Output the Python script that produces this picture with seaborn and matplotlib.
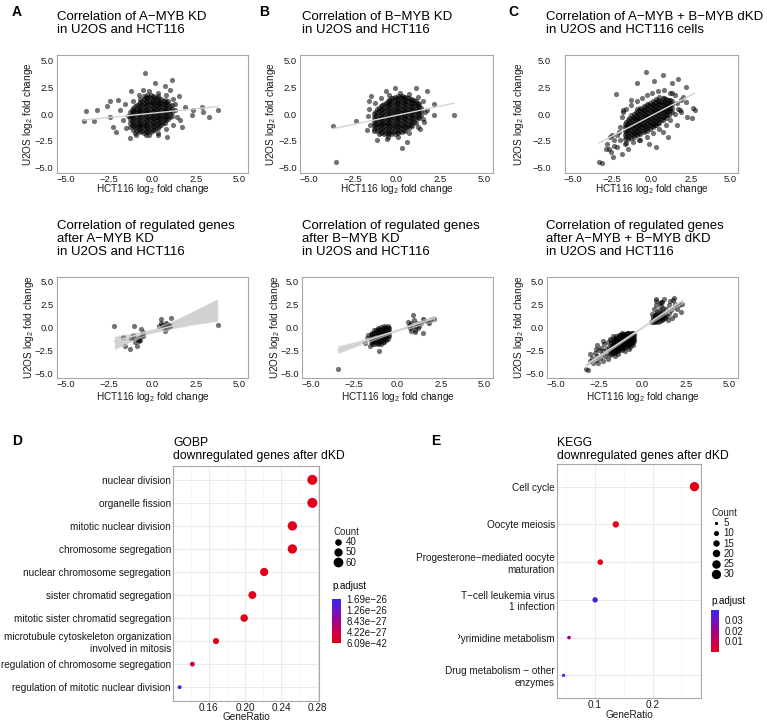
import numpy as np
import pandas as pd
import matplotlib
matplotlib.use("Agg")
import matplotlib.pyplot as plt
import seaborn as sns
from matplotlib.colors import LinearSegmentedColormap, Normalize
from matplotlib.cm import ScalarMappable
from matplotlib.lines import Line2D
from matplotlib.transforms import Bbox, TransformedBbox

# ---------------- data: correlation panels (log2 fold changes) ----------------
a_out = [(-3.81, 0.28), (-3.96, -0.63), (-3.21, 0.38), (-3.36, -0.63), (-2.6, 0.76), (-2.45, -0.25),
         (-1.98, 1.32), (-2.26, -1.2), (-2.11, -1.67), (-1.32, -2.21), (-0.43, 3.79), (0.15, 2.9),
         (1.13, 3.15), (0.7, 2.59), (1.51, 1.64), (1.89, 0.69), (2.26, -0.09), (2.83, 0.69),
         (2.92, 0.22), (3.25, -0.25), (3.77, 0.38), (2.36, 0.38), (1.7, -1.2), (0.85, -2.15),
         (-0.19, -1.99), (-0.94, -1.99), (1.32, 0.38), (1.6, -0.57), (0.34, -1.99), (-1.89, 0.38),
         (-2.45, 1.17), (-1.23, 2.11), (-0.57, 2.27),
         (-1.6, 0.9), (-1.7, -0.6), (-1.5, -1.3), (-1.1, 1.2), (-0.8, 1.8), (-0.2, 2.1), (0.3, 2.0),
         (0.8, 1.8), (1.2, 1.4), (1.3, 0.9), (1.4, -0.3), (1.2, -1.0), (0.8, -1.4), (0.3, -1.8),
         (-0.4, -2.0), (-1.0, -1.8), (-1.4, -0.2), (1.0, 2.2)]
a_core = [(-1.3, [-1.2, -0.85, -0.5, -0.15, 0.2]),
          (-1.1, [-1.45, -1.1, -0.75, -0.4, -0.05, 0.3, 0.6]),
          (-0.9, [-1.6, -1.25, -0.9, -0.55, -0.2, 0.15, 0.5, 0.85]),
          (-0.7, [-1.7, -1.35, -1.0, -0.65, -0.3, 0.05, 0.4, 0.75, 1.1, 1.4]),
          (-0.5, [-1.75, -1.4, -1.05, -0.7, -0.35, 0.0, 0.35, 0.7, 1.05, 1.4, 1.65]),
          (-0.3, [-1.7, -1.35, -1.0, -0.65, -0.3, 0.05, 0.4, 0.75, 1.1, 1.45, 1.75]),
          (-0.1, [-1.65, -1.3, -0.95, -0.6, -0.25, 0.1, 0.45, 0.8, 1.15, 1.5, 1.8]),
          (0.1, [-1.5, -1.15, -0.8, -0.45, -0.1, 0.25, 0.6, 0.95, 1.3, 1.6]),
          (0.3, [-1.3, -0.95, -0.6, -0.25, 0.1, 0.45, 0.8, 1.15, 1.5, 1.7]),
          (0.5, [-1.05, -0.7, -0.35, 0.0, 0.35, 0.7, 1.05, 1.4]),
          (0.7, [-0.8, -0.45, -0.1, 0.25, 0.6, 0.95, 1.3]),
          (0.9, [-0.5, -0.15, 0.2, 0.55, 0.9, 1.2]),
          (1.1, [-0.2, 0.15, 0.5, 0.85]),
          (-1.2, [-1.0, -0.65, -0.3, 0.05, 0.4]),
          (-1.0, [-1.35, -1.0, -0.65, -0.3, 0.05, 0.4, 0.75]),
          (-0.8, [-1.5, -1.15, -0.8, -0.45, -0.1, 0.25, 0.6, 0.95]),
          (-0.6, [-1.6, -1.25, -0.9, -0.55, -0.2, 0.15, 0.5, 0.85, 1.2]),
          (-0.4, [-1.6, -1.25, -0.9, -0.55, -0.2, 0.15, 0.5, 0.85, 1.2, 1.55]),
          (-0.2, [-1.55, -1.2, -0.85, -0.5, -0.15, 0.2, 0.55, 0.9, 1.25, 1.6]),
          (0.0, [-1.45, -1.1, -0.75, -0.4, -0.05, 0.3, 0.65, 1.0, 1.35, 1.65]),
          (0.2, [-1.3, -0.95, -0.6, -0.25, 0.1, 0.45, 0.8, 1.15, 1.45]),
          (0.4, [-1.1, -0.75, -0.4, -0.05, 0.3, 0.65, 1.0, 1.35]),
          (0.6, [-0.85, -0.5, -0.15, 0.2, 0.55, 0.9, 1.25]),
          (0.8, [-0.55, -0.2, 0.15, 0.5, 0.85, 1.15]),
          (1.0, [-0.3, 0.05, 0.4, 0.75])]

b_out = [(-3.64, -1.1), (-3.45, -4.51), (-2.28, -0.66), (-1.57, 1.17), (-1.43, 1.64), (1.11, 2.43),
         (1.74, 2.11), (2.11, 0.91), (2.15, -0.09), (3.3, -0.09), (0.32, -3.19), (0.6, -2.62),
         (-1.09, -2.46), (-0.53, -2.3), (1.74, 0.38), (1.55, -0.73), (-1.66, -1.51), (-0.62, 2.11),
         (-0.06, 2.43), (1.36, -1.36),
         (-1.6, -0.2), (-1.55, 0.5), (-1.5, -1.0), (-1.2, 1.0), (-0.9, 1.5), (-0.4, 1.8), (0.2, 1.95),
         (0.7, 1.9), (1.2, 1.6), (1.5, 1.2), (1.6, 0.2), (1.5, -0.5), (1.2, -1.2), (0.7, -1.8),
         (0.1, -2.1), (-0.5, -2.1), (-1.0, -1.9), (-1.3, -1.6)]
b_core = [(-1.3, [-1.4, -1.05, -0.7, -0.35, 0.0]),
          (-1.1, [-1.6, -1.25, -0.9, -0.55, -0.2, 0.15, 0.45]),
          (-0.9, [-1.75, -1.4, -1.05, -0.7, -0.35, 0.0, 0.35, 0.7]),
          (-0.7, [-1.85, -1.5, -1.15, -0.8, -0.45, -0.1, 0.25, 0.6, 0.95]),
          (-0.5, [-1.9, -1.55, -1.2, -0.85, -0.5, -0.15, 0.2, 0.55, 0.9, 1.2]),
          (-0.3, [-1.9, -1.55, -1.2, -0.85, -0.5, -0.15, 0.2, 0.55, 0.9, 1.25, 1.5]),
          (-0.1, [-1.85, -1.5, -1.15, -0.8, -0.45, -0.1, 0.25, 0.6, 0.95, 1.3, 1.6]),
          (0.1, [-1.8, -1.45, -1.1, -0.75, -0.4, -0.05, 0.3, 0.65, 1.0, 1.35, 1.65]),
          (0.3, [-1.7, -1.35, -1.0, -0.65, -0.3, 0.05, 0.4, 0.75, 1.1, 1.45, 1.7]),
          (0.5, [-1.55, -1.2, -0.85, -0.5, -0.15, 0.2, 0.55, 0.9, 1.25, 1.6]),
          (0.7, [-1.35, -1.0, -0.65, -0.3, 0.05, 0.4, 0.75, 1.1, 1.45]),
          (0.9, [-1.1, -0.75, -0.4, -0.05, 0.3, 0.65, 1.0, 1.3]),
          (1.1, [-0.8, -0.45, -0.1, 0.25, 0.6, 0.95, 1.25]),
          (1.3, [-0.4, -0.05, 0.3, 0.65, 0.95]),
          (-1.2, [-1.25, -0.9, -0.55, -0.2, 0.15]),
          (-1.0, [-1.5, -1.15, -0.8, -0.45, -0.1, 0.25, 0.55]),
          (-0.8, [-1.65, -1.3, -0.95, -0.6, -0.25, 0.1, 0.45, 0.8]),
          (-0.6, [-1.75, -1.4, -1.05, -0.7, -0.35, 0.0, 0.35, 0.7, 1.05]),
          (-0.4, [-1.75, -1.4, -1.05, -0.7, -0.35, 0.0, 0.35, 0.7, 1.05, 1.35]),
          (-0.2, [-1.7, -1.35, -1.0, -0.65, -0.3, 0.05, 0.4, 0.75, 1.1, 1.45]),
          (0.0, [-1.65, -1.3, -0.95, -0.6, -0.25, 0.1, 0.45, 0.8, 1.15, 1.5]),
          (0.2, [-1.6, -1.25, -0.9, -0.55, -0.2, 0.15, 0.5, 0.85, 1.2, 1.55]),
          (0.4, [-1.45, -1.1, -0.75, -0.4, -0.05, 0.3, 0.65, 1.0, 1.35, 1.6]),
          (0.6, [-1.25, -0.9, -0.55, -0.2, 0.15, 0.5, 0.85, 1.2, 1.5]),
          (0.8, [-1.0, -0.65, -0.3, 0.05, 0.4, 0.75, 1.1, 1.4]),
          (1.0, [-0.7, -0.35, 0.0, 0.35, 0.7, 1.05, 1.35]),
          (1.2, [-0.3, 0.05, 0.4, 0.75, 1.05]),
          (1.4, [-0.1, 0.25, 0.6])]

c_out = [(-3.36, -4.51), (-3.17, -4.6), (-2.83, -2.78), (-2.6, -3.56), (-2.36, -2.46), (-2.17, -3.09),
         (-2.64, -2.15), (-2.08, -1.67), (-1.89, -3.72), (-1.7, -2.78), (-1.51, -3.25), (-2.92, -3.25),
         (-2.45, -4.04), (-2.23, 1.89), (-0.38, 3.91), (0.75, 3.6), (1.7, 3.22), (1.32, 2.9),
         (2.17, 2.52), (2.64, 0.54), (2.74, 0.38), (2.26, -0.25), (2.55, -0.41), (1.79, 0.38),
         (1.89, 1.32), (1.04, -2.15), (0.28, -3.09), (0.75, -1.67), (1.6, -1.04), (-0.94, 2.9),
         (0.19, 3.06), (-1.32, 1.32), (-1.79, 0.38), (-0.75, -2.46), (-0.19, -2.78), (1.32, 1.96),
         (-2.0, -1.2), (-1.9, -0.3), (-1.8, 0.2), (-2.2, -2.0), (-1.6, 0.5), (-1.3, 0.8), (-0.9, 1.2),
         (-0.6, 1.5), (-0.3, 1.8), (0.0, 2.0), (0.4, 2.1), (0.8, 2.2), (1.2, 2.0), (1.5, 1.8),
         (1.6, 1.0), (1.7, 0.5), (1.5, 0.0), (1.2, -0.6), (0.9, -1.0), (0.5, -1.4), (0.1, -1.8),
         (-0.3, -2.1), (-0.8, -2.4), (-1.2, -2.6), (-1.6, -2.7), (-2.0, -2.4), (-2.4, -3.0),
         (-2.7, -3.3), (-2.5, -2.0), (2.0, 1.6), (2.2, 1.1), (1.9, 0.2)]
c_core = [(-1.7, [-2.3, -1.95, -1.6, -1.25, -0.9]),
          (-1.5, [-2.3, -1.95, -1.6, -1.25, -0.9, -0.55]),
          (-1.3, [-2.2, -1.85, -1.5, -1.15, -0.8, -0.45, -0.1]),
          (-1.1, [-2.1, -1.75, -1.4, -1.05, -0.7, -0.35, 0.0]),
          (-0.9, [-2.0, -1.65, -1.3, -0.95, -0.6, -0.25, 0.1, 0.45]),
          (-0.7, [-1.85, -1.5, -1.15, -0.8, -0.45, -0.1, 0.25, 0.6]),
          (-0.5, [-1.7, -1.35, -1.0, -0.65, -0.3, 0.05, 0.4, 0.75]),
          (-0.3, [-1.55, -1.2, -0.85, -0.5, -0.15, 0.2, 0.55, 0.9]),
          (-0.1, [-1.4, -1.05, -0.7, -0.35, 0.0, 0.35, 0.7, 1.05]),
          (0.1, [-1.25, -0.9, -0.55, -0.2, 0.15, 0.5, 0.85, 1.2]),
          (0.3, [-1.05, -0.7, -0.35, 0.0, 0.35, 0.7, 1.05, 1.4]),
          (0.5, [-0.85, -0.5, -0.15, 0.2, 0.55, 0.9, 1.25, 1.55]),
          (0.7, [-0.6, -0.25, 0.1, 0.45, 0.8, 1.15, 1.5]),
          (0.9, [-0.35, 0.0, 0.35, 0.7, 1.05, 1.4]),
          (1.1, [-0.1, 0.25, 0.6, 0.95, 1.3]),
          (1.3, [0.2, 0.55, 0.9, 1.25]),
          (-1.6, [-2.15, -1.8, -1.45, -1.1, -0.75]),
          (-1.4, [-2.1, -1.75, -1.4, -1.05, -0.7, -0.35]),
          (-1.2, [-2.0, -1.65, -1.3, -0.95, -0.6, -0.25]),
          (-1.0, [-1.9, -1.55, -1.2, -0.85, -0.5, -0.15, 0.2]),
          (-0.8, [-1.75, -1.4, -1.05, -0.7, -0.35, 0.0, 0.35]),
          (-0.6, [-1.6, -1.25, -0.9, -0.55, -0.2, 0.15, 0.5]),
          (-0.4, [-1.45, -1.1, -0.75, -0.4, -0.05, 0.3, 0.65]),
          (-0.2, [-1.3, -0.95, -0.6, -0.25, 0.1, 0.45, 0.8]),
          (0.0, [-1.15, -0.8, -0.45, -0.1, 0.25, 0.6, 0.95]),
          (0.2, [-1.0, -0.65, -0.3, 0.05, 0.4, 0.75, 1.1]),
          (0.4, [-0.8, -0.45, -0.1, 0.25, 0.6, 0.95, 1.3]),
          (0.6, [-0.55, -0.2, 0.15, 0.5, 0.85, 1.2]),
          (0.8, [-0.3, 0.05, 0.4, 0.75, 1.1, 1.45]),
          (1.0, [-0.05, 0.3, 0.65, 1.0, 1.35]),
          (1.2, [0.25, 0.6, 0.95, 1.3])]

a2_pts = [(-2.21, 0.11), (-1.7, -1.04), (-1.6, -1.98), (-1.32, -2.34), (-1.04, 0.11), (-1.13, -0.79),
          (-0.89, -1.98), (-1.04, -1.15), (-0.85, -1.33), (-0.75, -1.15), (-0.72, -1.4), (-0.79, -1.51),
          (-0.66, -0.18), (-0.62, -0.79), (-0.57, -0.9), (-0.57, -0.54), (-1.23, -1.15), (-0.98, -1.62),
          (0.47, 0.9), (0.51, 0.54), (0.57, 0.29), (0.72, 0.11), (0.72, -0.36), (0.75, 0.47),
          (0.85, 0.36), (0.94, 0.29), (0.98, 0.18), (1.04, 1.08), (0.38, 0.18), (3.77, 0.29),
          (0.85, -0.07), (0.66, 0.04)]

b2_out = [(-3.45, -4.5), (-1.06, -2.59), (-1.85, -1.69), (-1.57, -1.98), (-1.75, -1.1), (-1.68, -0.8),
          (0.64, 0.18), (0.7, -0.07), (0.79, 0.47), (0.89, 1.37), (0.94, 0.83), (1.08, 0.18),
          (0.98, -0.25), (1.17, -0.07), (1.36, 0.47), (1.45, 0.9), (1.55, 0.83), (1.45, -0.61),
          (1.74, 0.65), (1.83, 0.47), (1.92, 0.83), (2.11, 0.9), (0.79, -0.43), (0.98, -0.54),
          (1.26, 0.11), (0.6, 0.65), (0.7, 0.29), (0.89, 0.11), (1.13, 0.47)]
b2_core = [(-1.55, [-1.6, -1.3, -1.0, -0.7]),
           (-1.45, [-1.75, -1.45, -1.15, -0.85, -0.55]),
           (-1.35, [-1.8, -1.5, -1.2, -0.9, -0.6, -0.3]),
           (-1.25, [-1.7, -1.4, -1.1, -0.8, -0.5, -0.25]),
           (-1.15, [-1.8, -1.5, -1.2, -0.9, -0.6, -0.3, -0.05]),
           (-1.05, [-1.65, -1.35, -1.05, -0.75, -0.45, -0.15]),
           (-0.95, [-1.75, -1.45, -1.15, -0.85, -0.55, -0.25, 0.05]),
           (-0.85, [-1.55, -1.25, -0.95, -0.65, -0.35, -0.05]),
           (-0.75, [-1.6, -1.3, -1.0, -0.7, -0.4, -0.1, 0.15]),
           (-0.65, [-1.4, -1.1, -0.8, -0.5, -0.2, 0.05]),
           (-0.55, [-1.2, -0.9, -0.6, -0.3, 0.0, 0.2]),
           (-0.48, [-0.95, -0.65, -0.35, -0.05])]

c2_out = [(-3.26, -4.57), (-3.15, -4.6), (-3.0, -3.7), (-2.9, -3.3), (-2.85, -3.9), (-2.75, -2.8),
          (-2.7, -3.5), (-2.6, -1.9), (-2.6, -3.1), (-2.55, -3.85), (-2.5, -2.5), (-2.45, -3.3),
          (-2.4, -2.2), (-2.35, -2.9), (-2.3, -3.6), (-2.25, -2.6), (-2.2, -1.8), (-2.15, -3.1),
          (-2.1, -2.3), (-2.05, -2.8), (-2.0, -1.6), (-2.0, -3.4), (-1.95, -2.1), (-1.9, -2.6),
          (-1.9, -1.3), (-2.3, -1.5), (-2.7, -2.3), (-1.85, -3.0), (-1.6, -3.1), (-1.4, -2.9),
          (-1.0, -2.6), (-0.8, -2.3), (-0.55, -1.9), (-1.7, -0.9), (-1.2, -0.62), (-0.7, -2.1),
          (-3.05, -2.9),
          (0.5, 0.6), (0.55, 1.5), (0.65, 2.0), (0.75, 2.5), (0.8, 2.9), (0.95, 1.9), (1.05, 2.3),
          (1.15, 2.8), (1.2, 2.1), (1.35, 2.0), (1.4, 1.2), (1.5, 2.4), (1.55, 1.6), (1.6, 2.9),
          (1.65, 1.9), (1.75, 3.0), (1.8, 2.2), (1.85, 1.4), (1.9, 2.6), (2.0, 2.0), (2.1, 2.5),
          (2.2, 1.7), (2.3, 2.6), (1.45, 0.8), (1.7, 1.0), (0.62, 0.75), (1.0, 2.7), (1.25, 3.1),
          (0.85, 1.7), (1.1, 1.8), (0.79, 3.06), (1.08, 2.81), (1.83, 3.17)]
c2_core = [(-1.8, [-2.9, -2.6, -2.3, -2.0, -1.7, -1.4]),
           (-1.65, [-2.75, -2.45, -2.15, -1.85, -1.55, -1.25]),
           (-1.5, [-2.7, -2.4, -2.1, -1.8, -1.5, -1.2, -0.95]),
           (-1.35, [-2.5, -2.2, -1.9, -1.6, -1.3, -1.0, -0.8]),
           (-1.2, [-2.4, -2.1, -1.8, -1.5, -1.2, -0.9, -0.7]),
           (-1.05, [-2.2, -1.9, -1.6, -1.3, -1.0, -0.75]),
           (-0.9, [-2.05, -1.75, -1.45, -1.15, -0.85, -0.65]),
           (-0.75, [-1.9, -1.6, -1.3, -1.0, -0.75, -0.6]),
           (-0.6, [-1.7, -1.4, -1.1, -0.85, -0.65]),
           (-0.48, [-1.5, -1.2, -0.95, -0.7]),
           (-1.72, [-2.8, -2.5, -2.2, -1.9, -1.6]),
           (-1.58, [-2.6, -2.3, -2.0, -1.7, -1.4, -1.1]),
           (-1.42, [-2.55, -2.25, -1.95, -1.65, -1.35, -1.05]),
           (-1.28, [-2.35, -2.05, -1.75, -1.45, -1.15, -0.85]),
           (-1.12, [-2.25, -1.95, -1.65, -1.35, -1.05, -0.8]),
           (-0.98, [-2.1, -1.8, -1.5, -1.2, -0.9, -0.7]),
           (-0.82, [-1.95, -1.65, -1.35, -1.05, -0.8, -0.62]),
           (-0.68, [-1.8, -1.5, -1.2, -0.9, -0.68]),
           (-0.54, [-1.6, -1.3, -1.0, -0.75, -0.6]),
           (0.6, [0.65, 0.9, 1.15]),
           (0.7, [0.6, 0.85, 1.1, 1.35]),
           (0.8, [0.7, 0.95, 1.2, 1.45]),
           (0.9, [0.65, 0.9, 1.15, 1.4]),
           (1.0, [0.75, 1.0, 1.25, 1.5]),
           (1.1, [0.8, 1.05, 1.3, 1.6]),
           (1.2, [0.9, 1.15, 1.4]),
           (1.3, [1.0, 1.3, 1.6])]

corr_ticks = [-5.0, -2.5, 0.0, 2.5, 5.0]
corr_ticklabels = ["\u22125.0", "\u22122.5", "0.0", "2.5", "5.0"]

titles_top = ["Correlation of A\u2212MYB KD\nin U2OS and HCT116",
              "Correlation of B\u2212MYB KD\nin U2OS and HCT116",
              "Correlation of A\u2212MYB + B\u2212MYB dKD\nin U2OS and HCT116 cells"]
titles_bot = ["Correlation of regulated genes\nafter A\u2212MYB KD\nin U2OS and HCT116",
              "Correlation of regulated genes\nafter B\u2212MYB KD\nin U2OS and HCT116",
              "Correlation of regulated genes\nafter A\u2212MYB + B\u2212MYB dKD\nin U2OS and HCT116"]
xlab = "HCT116 log$_2$ fold change"
ylab = "U2OS log$_2$ fold change"

# ---------------- data: enrichment dot plots ----------------
go_terms = ["nuclear division", "organelle fission", "mitotic nuclear division", "chromosome segregation",
            "nuclear chromosome segregation", "sister chromatid segregation",
            "mitotic sister chromatid segregation",
            "microtubule cytoskeleton organization\ninvolved in mitosis",
            "regulation of chromosome segregation", "regulation of mitotic nuclear division"]
go_ratio = [0.274, 0.274, 0.252, 0.252, 0.221, 0.208, 0.199, 0.168, 0.142, 0.128]
go_count = [62, 62, 57, 57, 50, 47, 45, 38, 32, 29]
go_padj = [6.09e-42, 1.2e-41, 3.5e-40, 5.1e-39, 2.2e-36, 8.0e-35, 4.4e-34, 2.3e-30, 3.1e-27, 1.69e-26]
go_cbar_ticks = [6.09e-42, 4.22e-27, 8.43e-27, 1.26e-26, 1.69e-26]
go_cbar_labels = ["6.09e\u221242", "4.22e\u221227", "8.43e\u221227", "1.26e\u221226", "1.69e\u221226"]
go_size_legend = [40, 50, 60]
go_xticks = [0.16, 0.20, 0.24, 0.28]
go_xticklabels = ["0.16", "0.20", "0.24", "0.28"]

kegg_terms = ["Cell cycle", "Oocyte meiosis", "Progesterone\u2212mediated oocyte\nmaturation",
              "T\u2212cell leukemia virus\n1 infection", "Pyrimidine metabolism",
              "Drug metabolism \u2212 other\nenzymes"]
kegg_ratio = [0.273, 0.136, 0.109, 0.100, 0.0545, 0.045]
kegg_count = [30, 15, 12, 11, 6, 5]
kegg_padj = [2.0e-20, 3.0e-6, 1.5e-4, 0.0393, 0.021, 0.037]
kegg_cbar_ticks = [0.01, 0.02, 0.03]
kegg_cbar_labels = ["0.01", "0.02", "0.03"]
kegg_size_legend = [5, 10, 15, 20, 25, 30]
kegg_xticks = [0.1, 0.2]
kegg_xticklabels = ["0.1", "0.2"]

# ---------------- style ----------------
sns.set_style("white")
plt.rcParams.update({
    "font.family": ["Liberation Sans", "DejaVu Sans"],
    "mathtext.fontset": "custom",
    "mathtext.rm": "Liberation Sans",
    "mathtext.it": "Liberation Sans:italic",
    "mathtext.bf": "Liberation Sans:bold",
})
TXT = "#1a1a1a"
FRAME = "#a6a6a6"
W, H = 767, 722
fig = plt.figure(figsize=(W / 100, H / 100), dpi=100)


def box(l, t, r, b):
    return [l / W, 1 - b / H, (r - l) / W, (b - t) / H]


def ftext(x, y, s, **kw):
    return fig.text(x / W, 1 - y / H, s, **kw)


def expand(out, core):
    pts = list(out) + [(x, y) for x, ys in core for y in ys]
    return [p[0] for p in pts], [p[1] for p in pts]


def corr_panel(rect, xs, ys, band, ypad):
    ax = fig.add_axes(box(*rect))
    sns.scatterplot(x=xs, y=ys, color="black", alpha=0.55, s=14, linewidth=0, ax=ax)
    sns.regplot(x=xs, y=ys, scatter=False, ci=95 if band else None, color="#d4d4d4",
                line_kws=dict(lw=1.0), ax=ax, seed=3)
    if band:
        coll = ax.collections[-1]
        coll.set_facecolor("#9a9a9a")
        coll.set_alpha(0.45)
    ax.set_xlim(-5.5, 5.5)
    ax.set_ylim(-5.5, 5.5)
    ax.set_xticks(corr_ticks)
    ax.set_xticklabels(corr_ticklabels)
    ax.set_yticks(corr_ticks)
    ax.set_yticklabels(corr_ticklabels)
    ax.tick_params(axis="both", labelsize=6.8, colors=TXT, length=1.0, width=0.5)
    ax.tick_params(axis="x", pad=0.2)
    ax.tick_params(axis="y", pad=ypad)
    for s in ax.spines.values():
        s.set_color(FRAME)
        s.set_linewidth(0.8)
    ax.set_xlabel("")
    ax.set_ylabel("")
    return ax


# rect, data, band, ytick pad, title x/y, ylabel centre x, xlabel centre y
panels = [
    ((57, 55, 248, 173), expand(a_out, a_core), False, 1.5, titles_top[0], 57, 11.5, 28.5, 189.5),
    ((300, 55, 493, 173), expand(b_out, b_core), False, 1.0, titles_top[1], 302, 11.5, 271.5, 189.5),
    ((565, 55, 738, 173), expand(c_out, c_core), False, 9.0, titles_top[2], 546, 11.5, 519, 189.5),
    ((57, 277, 248, 378), expand(a2_pts, []), True, 1.5, titles_bot[0], 57, 220.5, 29, 396.5),
    ((302, 277, 493, 378), expand(b2_out, b2_core), True, 1.0, titles_bot[1], 302, 220.5, 275, 396.5),
    ((547, 277, 738, 378), expand(c2_out, c2_core), True, 1.0, titles_bot[2], 546, 220.5, 519, 396.5),
]
for rect, (xs, ys), band, ypad, title, tx, ty, ylx, xly in panels:
    corr_panel(rect, xs, ys, band, ypad)
    ftext(tx, ty, title, ha="left", va="top", fontsize=9.5, color="black", linespacing=1.1)
    ftext(ylx, (rect[1] + rect[3]) / 2, ylab, rotation=90, ha="center", va="center",
          fontsize=7.2, color=TXT)
    ftext((rect[0] + rect[2]) / 2, xly, xlab, ha="center", va="center", fontsize=7.2, color=TXT)

for letter, lx, ly in [("A", 12, 5), ("B", 259, 5), ("C", 508, 5), ("D", 12, 434), ("E", 431, 434)]:
    ftext(lx, ly, letter, ha="left", va="top", fontsize=10, fontweight="bold", color="black")

cmap = LinearSegmentedColormap.from_list("padj", ["#E0001A", "#C8004F", "#A00088", "#6A16C4", "#3A22EE"])


def dot_panel(rect, terms, ratio, count, padj, sizes, size_norm, xlim, xticks, xticklabels, minor):
    ax = fig.add_axes(box(*rect))
    df = pd.DataFrame({"Description": terms, "GeneRatio": ratio, "Count": count, "p.adjust": padj})
    norm = Normalize(min(padj), max(padj))
    sns.scatterplot(data=df, x="GeneRatio", y="Description", hue="p.adjust", hue_norm=norm,
                    palette=cmap, size="Count", sizes=sizes, size_norm=size_norm,
                    linewidth=0, legend=False, ax=ax, zorder=3)
    n = len(terms)
    ax.set_ylim(n - 1 + 0.6, -0.6)
    ax.set_xlim(*xlim)
    ax.set_xticks(xticks)
    ax.set_xticklabels(xticklabels)
    ax.set_xticks(minor, minor=True)
    ax.grid(True, which="major", color="#ebebeb", lw=0.7)
    ax.grid(True, which="minor", axis="x", color="#f2f2f2", lw=0.4)
    ax.set_axisbelow(True)
    ax.tick_params(axis="both", which="both", length=0, labelsize=7.2, colors=TXT)
    ax.tick_params(axis="y", pad=1.5)
    ax.tick_params(axis="x", pad=1.2)
    for s in ax.spines.values():
        s.set_color(FRAME)
        s.set_linewidth(0.8)
    ax.set_ylabel("")
    ax.set_xlabel("")
    return ax, norm


def size_of(c, sizes, size_norm):
    return sizes[0] + (c - size_norm[0]) / (size_norm[1] - size_norm[0]) * (sizes[1] - sizes[0])


# Panel D
go_sizes, go_snorm = (8, 52), (29, 62)
axD, normD = dot_panel((173, 466, 319, 701), go_terms, go_ratio, go_count, go_padj, go_sizes, go_snorm,
                       (0.1207, 0.2813), go_xticks, go_xticklabels, [0.14, 0.18, 0.22, 0.26])
ftext(246, 716.5, "GeneRatio", ha="center", va="center", fontsize=7.2, color=TXT)
ftext(173, 437, "GOBP\ndownregulated genes after dKD", ha="left", va="top",
      fontsize=8.7, color="black", linespacing=1.15)

# Panel E
kegg_sizes, kegg_snorm = (5.5, 45), (5, 30)
axE, normE = dot_panel((557, 464, 701, 698), kegg_terms, kegg_ratio, kegg_count, kegg_padj, kegg_sizes,
                       kegg_snorm, (0.0336, 0.2844), kegg_xticks, kegg_xticklabels, [0.05, 0.15, 0.25])
ftext(629.5, 715, "GeneRatio", ha="center", va="center", fontsize=7.2, color=TXT)
ftext(557, 437, "KEGG\ndownregulated genes after dKD", ha="left", va="top",
      fontsize=8.7, color="black", linespacing=1.15)
# the first letter of this label is cut off by the panel edge in the original
clip = TransformedBbox(Bbox.from_extents(458 / W, 0, 1, 1), fig.transFigure)
for tk in axE.yaxis.get_major_ticks():
    if tk.label1.get_text().startswith("Pyrimidine"):
        tk.label1.set_clip_on(True)
        tk.label1.set_clip_box(clip)


def size_legend(values, sizes, size_norm, x, y):
    handles = [Line2D([], [], marker="o", linestyle="", color="black", markeredgewidth=0,
                      markersize=np.sqrt(size_of(v, sizes, size_norm))) for v in values]
    leg = fig.legend(handles, [str(v) for v in values], loc="upper left",
                     bbox_to_anchor=(x / W, 1 - y / H), frameon=False, title="Count",
                     fontsize=7, title_fontsize=7, handlelength=1.0, handletextpad=0.3,
                     labelspacing=0.02, borderpad=0, borderaxespad=0)
    leg._legend_box.align = "left"
    for t in leg.get_texts():
        t.set_color(TXT)
    return leg


size_legend(go_size_legend, go_sizes, go_snorm, 333, 527)
size_legend(kegg_size_legend, kegg_sizes, kegg_snorm, 711, 508)


def colorbar(rect, norm, ticks, labels, title_y):
    cax = fig.add_axes(box(*rect))
    cb = fig.colorbar(ScalarMappable(norm=norm, cmap=cmap), cax=cax)
    cb.set_ticks(ticks)
    cb.set_ticklabels(labels)
    cb.outline.set_visible(False)
    cax.tick_params(length=0, labelsize=7, pad=4, colors=TXT)
    ftext(rect[0], title_y, "p.adjust", ha="left", va="top", fontsize=7, color="black")


colorbar((332, 599, 341, 643), normD, go_cbar_ticks, go_cbar_labels, 581)
colorbar((711, 610, 719, 652), normE, kegg_cbar_ticks, kegg_cbar_labels, 596)

fig.savefig("out.png", dpi=100)
